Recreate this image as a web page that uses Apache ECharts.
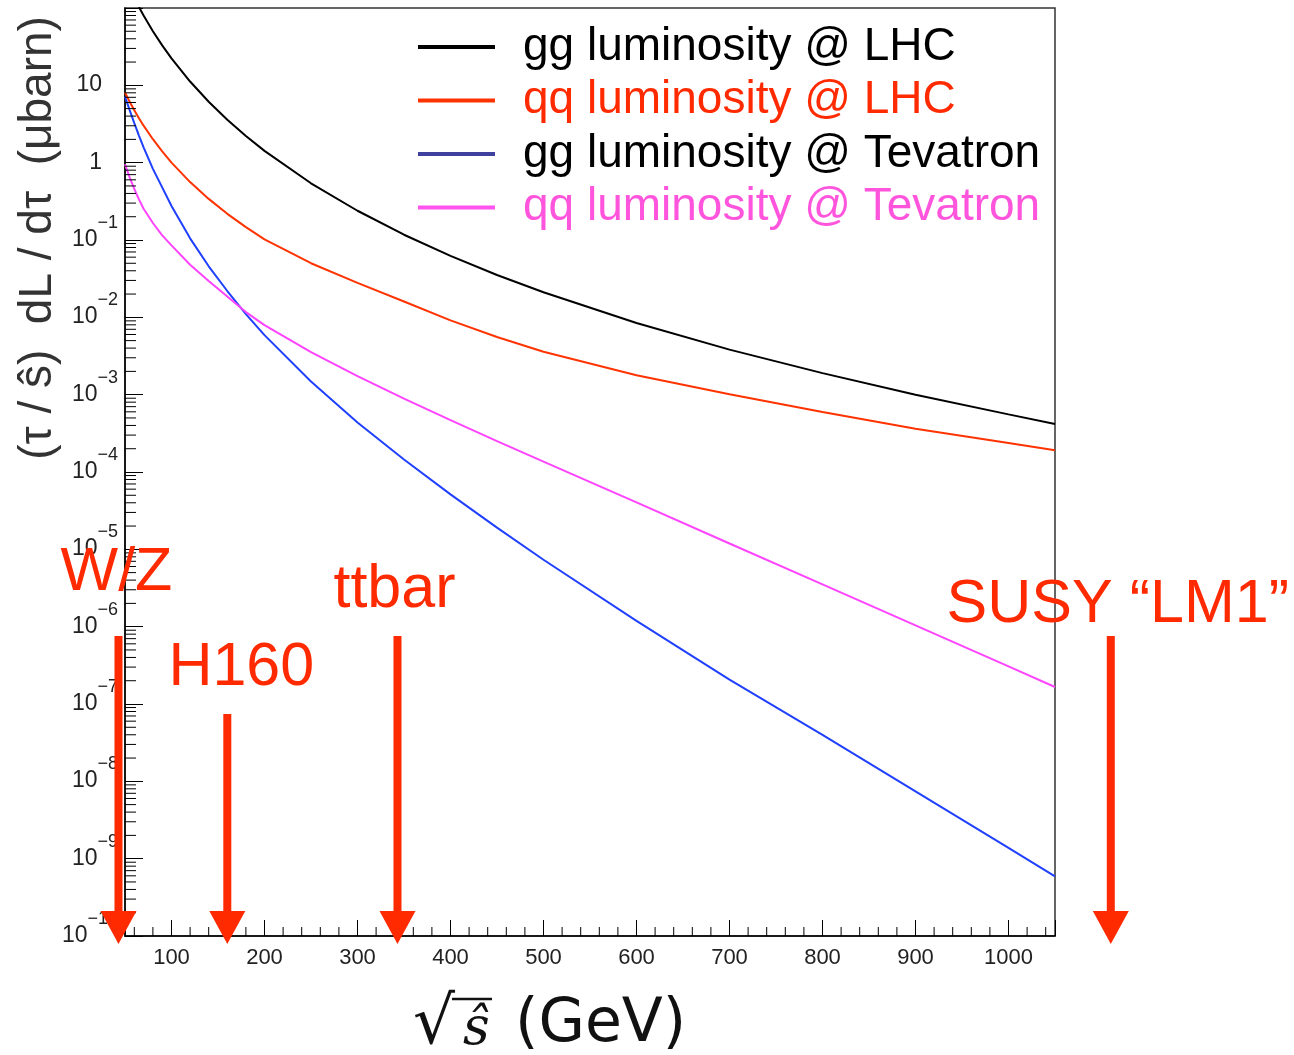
<!DOCTYPE html>
<html><head><meta charset="utf-8">
<script src="https://cdn.jsdelivr.net/npm/echarts@6/dist/echarts.min.js"></script>
<style>html,body{margin:0;padding:0;background:#fff}#c{width:1294px;height:1055px}</style>
</head><body><div id="c"></div>
<script>
// ---- data ----
const energies = [50,55,60,65,70,80,90,100,120,140,160,180,200,250,300,350,400,450,500,600,700,800,900,1000,1050];
const ggLHC = [null,null,null,102.8,79.9,50.1,32.9,22.3,11.2,6.14,3.59,2.21,1.42,0.541,0.239,0.117,0.0624,0.0353,0.0211,0.00845,0.00382,0.00190,0.00100,0.000556,0.000417];
const qqLHC = [8.07,6.14,4.75,3.76,3.01,2.01,1.40,1.00,0.561,0.340,0.218,0.147,0.102,0.0501,0.0279,0.0160,0.00912,0.00556,0.00359,0.00178,0.00101,0.000596,0.000363,0.000237,0.000191];
const ggTev = [7.16,4.79,3.24,2.24,1.58,0.832,0.479,0.275,0.105,0.0457,0.0219,0.0110,0.00589,0.00148,0.000437,0.000145,5.13e-5,1.91e-5,7.33e-6,1.19e-6,2.07e-7,3.98e-8,7.41e-9,1.38e-9,5.89e-10];
const qqTev = [0.955,0.646,0.457,0.335,0.254,0.166,0.115,0.0851,0.0479,0.0295,0.0186,0.0117,0.00794,0.00355,0.00174,0.000891,0.000468,0.000251,0.000136,4.04e-5,1.19e-5,3.52e-6,1.04e-6,3.07e-7,1.66e-7];
const seriesNames = ['gg luminosity @ LHC','qq luminosity @ LHC','gg luminosity @ Tevatron','qq luminosity @ Tevatron'];
const yExponents = [-10,-9,-8,-7,-6,-5,-4,-3,-2,-1,0,1,2];
const annotLabels = ['W/Z','H160','ttbar','SUSY \u201CLM1\u201D'];
const annotEnergy = [43,160,343,1110];

// tick helpers (axis decoration only)
const xMinorTicks = [];
for (let v = 60; v < 1050; v += 20) if (v % 100 !== 0) xMinorTicks.push(v);
const yMinorTicks = [];
for (let e = -10; e < 2; e++) for (let m = 2; m <= 9; m++) yMinorTicks.push(m * Math.pow(10, e));

// ---- styles ----
const RED = '#ff2a00';
const lineColors = ['#000000','#ff3300','#2040ff','#ff44ff'];
const legendIconColors = ['#000000','#ff3300','#40409e','#ff55ee'];
const legendTextColors = ['#000000','#ff2a00','#000000','#ff55dd'];
const FONT = '"Liberation Sans", Arial, sans-serif';

const pair = arr => energies.map((x, i) => [x, arr[i]]);
const chart = echarts.init(document.getElementById('c'));

function yFmt(v) {
  if (yExponents.indexOf(v) < 0 || v === 2) return '';
  if (v === 1) return '{b|10}{e| }';
  if (v === 0) return '{b|1}{e| }';
  return '{b|10}{s|\u2212' + (-v) + '}';
}

const option = {
  animation: false,
  backgroundColor: '#fff',
  grid: {left: 125, right: 239, top: 8, bottom: 119, show: true, borderColor: '#333', borderWidth: 1.5, backgroundColor: 'transparent'},
  xAxis: {
    type: 'value', min: 50, max: 1050, splitNumber: 10,
    axisLine: {show: true, onZero: false, lineStyle: {color: '#000', width: 1.5}},
    axisTick: {show: true, inside: true, length: 16, lineStyle: {color: '#000', width: 1}},
    splitLine: {show: false},
    axisLabel: {margin: 11, fontSize: 22, fontFamily: FONT, color: '#222',
      formatter: v => (v % 100 === 0 ? String(v) : '')}
  },
  yAxis: [
    {type: 'log', logBase: 10, min: 1e-10, max: 100, show: false},
    {type: 'value', min: -10, max: 2, interval: 1, position: 'left',
      axisLine: {show: true, onZero: false, lineStyle: {color: '#000', width: 1.5}},
      axisTick: {show: true, inside: true, length: 18, lineStyle: {color: '#000', width: 1}},
      splitLine: {show: false},
      axisLabel: {margin: 7, formatter: yFmt,
        rich: {
          b: {fontSize: 23, fontFamily: FONT, color: '#222', verticalAlign: 'bottom', padding: [0,0,15,0]},
          s: {fontSize: 18, fontFamily: FONT, color: '#222', verticalAlign: 'bottom', padding: [0,0,34,0]},
          e: {fontSize: 18, width: 16, fontFamily: FONT, verticalAlign: 'bottom', padding: [0,0,34,0]}
        }}
    }
  ],
  legend: {
    orient: 'vertical', left: 418, top: 24, itemWidth: 77, itemHeight: 4, itemGap: 7.5,
    icon: 'rect', padding: 0, selectedMode: false,
    textStyle: {fontSize: 46, fontFamily: FONT, padding: [0,0,0,23]},
    data: seriesNames.map((n, i) => ({name: n, itemStyle: {color: legendIconColors[i]}, textStyle: {color: legendTextColors[i]}}))
  },
  series: [
    ...[ggLHC, qqLHC, ggTev, qqTev].map((arr, i) => ({
      name: seriesNames[i], type: 'line', xAxisIndex: 0, yAxisIndex: 0,
      data: pair(arr), showSymbol: false, symbol: 'none', color: lineColors[i],
      smooth: false, clip: true,
      lineStyle: {width: 2, color: lineColors[i]}, z: 3
    })),
    {type: 'custom', xAxisIndex: 0, yAxisIndex: 0, silent: true, clip: false, z: 4,
      data: yMinorTicks.map(v => [50, v]),
      renderItem: (p, api) => {
        const c = api.coord([api.value(0), api.value(1)]);
        return {type: 'line', shape: {x1: c[0], y1: c[1], x2: c[0] + 11, y2: c[1]}, style: {stroke: '#000', lineWidth: 1}};
      }},
    {type: 'custom', xAxisIndex: 0, yAxisIndex: 0, silent: true, clip: false, z: 4,
      data: xMinorTicks.map(v => [v, 1e-10]),
      renderItem: (p, api) => {
        const c = api.coord([api.value(0), api.value(1)]);
        return {type: 'line', shape: {x1: c[0], y1: c[1], x2: c[0], y2: c[1] - 9}, style: {stroke: '#000', lineWidth: 1}};
      }}
  ]
};
chart.setOption(option);

// ---- annotations (arrows + labels) and axis titles ----
const arrowTop = [636, 714, 636, 636];
const arrowTip = 944;
const labelDx = [-2, 14, -3, 7];
const labelCy = [573, 668, 590, 605];
const g = [];
annotEnergy.forEach((e, i) => {
  const cx = chart.convertToPixel({xAxisIndex: 0}, e);
  g.push({type: 'rect', z: 100, shape: {x: cx - 4, y: arrowTop[i], width: 8, height: arrowTip - 33 - arrowTop[i] + 1}, style: {fill: RED}});
  g.push({type: 'polygon', z: 100, shape: {points: [[cx - 18, arrowTip - 33], [cx + 18, arrowTip - 33], [cx, arrowTip]]}, style: {fill: RED}});
  g.push({type: 'text', z: 101, x: cx + labelDx[i], y: labelCy[i],
    style: {text: annotLabels[i], fontSize: 61, fontFamily: FONT, fill: RED, align: 'center', verticalAlign: 'middle'}});
});
g.push({type: 'text', z: 50, x: 38, y: 238, rotation: Math.PI / 2,
  style: {text: '(\u03C4 / \u015D)  dL / d\u03C4  (\u03BCbarn)', fontSize: 46, fontFamily: FONT, fill: '#333', align: 'center', verticalAlign: 'middle'}});
// x-axis title: radical, hatted s, unit
g.push({type: 'text', z: 50, x: 413, y: 1026,
  style: {text: '\u221A', fontSize: 66, fontFamily: '"DejaVu Sans"', fill: '#111', align: 'left', verticalAlign: 'middle'}});
g.push({type: 'line', z: 50, shape: {x1: 452, y1: 999, x2: 492, y2: 999}, style: {stroke: '#111', lineWidth: 2.5}});
g.push({type: 'text', z: 50, x: 463, y: 1030,
  style: {text: '\u015D', fontSize: 52, fontFamily: '"DejaVu Serif"', fontStyle: 'italic', fill: '#111', align: 'left', verticalAlign: 'middle'}});
g.push({type: 'text', z: 50, x: 515, y: 1025,
  style: {text: '(GeV)', fontSize: 60, fontFamily: '"DejaVu Sans"', fill: '#111', align: 'left', verticalAlign: 'middle'}});
chart.setOption({graphic: g});
</script></body></html>
